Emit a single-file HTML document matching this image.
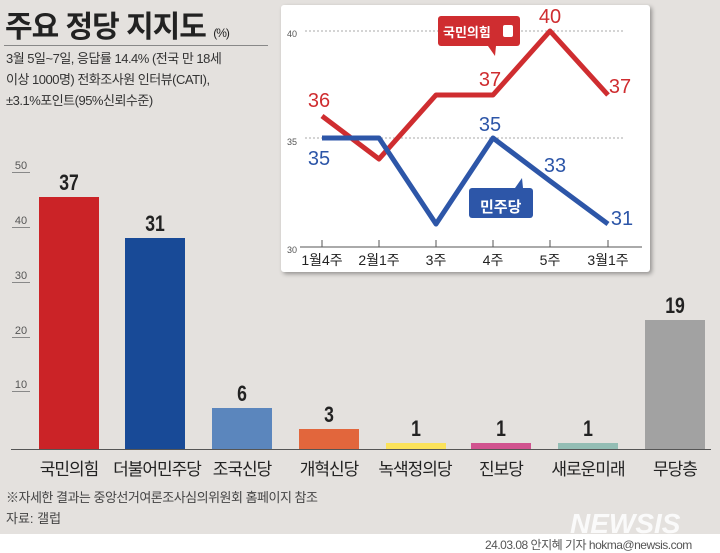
<!DOCTYPE html><html><head><meta charset="utf-8"><style>
body{margin:0;width:720px;height:553px;background:#e4e1de;position:relative;overflow:hidden;font-family:"Liberation Sans","Noto Sans CJK KR",sans-serif;}
.a{position:absolute;white-space:nowrap}
.bar{position:absolute;width:60px}
.v{position:absolute;width:60px;text-align:center;font-size:22px;font-weight:bold;color:#222;transform:scaleX(.8)}
.lb{position:absolute;width:86px;text-align:center;font-size:17px;color:#222;top:455px;letter-spacing:-1px}
.t{position:absolute;left:12px;font-size:11px;color:#555;width:18px;border-bottom:1px solid #888;text-align:center}
</style></head><body>
<div class="a" style="left:5px;top:2px;font-size:30px;font-weight:bold;color:#222;letter-spacing:-1px">주요 정당 지지도 <span style="font-size:12px;font-weight:normal">(%)</span></div>
<div class="a" style="left:4px;top:45px;width:264px;border-top:1px solid #888"></div>
<div class="a" style="left:6px;top:48px;font-size:13px;line-height:21px;color:#333;letter-spacing:-0.5px">3월 5일~7일, 응답률 14.4% (전국 만 18세<br>이상 1000명) 전화조사원 인터뷰(CATI),<br>±3.1%포인트(95%신뢰수준)</div>
<div class="t" style="top:160px">50</div><div class="t" style="top:215px">40</div><div class="t" style="top:270px">30</div><div class="t" style="top:325px">20</div><div class="t" style="top:379px">10</div>
<div class="a" style="left:11px;top:449px;width:700px;border-top:1px solid #555"></div>
<div class="bar" style="left:39px;top:197px;height:252px;background:#cb2327"></div><div class="v" style="left:39px;top:170px">37</div>
<div class="bar" style="left:125px;top:238px;height:211px;background:#184a97"></div><div class="v" style="left:125px;top:211px">31</div>
<div class="bar" style="left:212px;top:408px;height:41px;background:#5b86bd"></div><div class="v" style="left:212px;top:381px">6</div>
<div class="bar" style="left:299px;top:429px;height:20px;background:#e2663c"></div><div class="v" style="left:299px;top:402px">3</div>
<div class="bar" style="left:386px;top:443px;height:6px;background:#fbe25a"></div><div class="v" style="left:386px;top:416px">1</div>
<div class="bar" style="left:471px;top:443px;height:6px;background:#d1538f"></div><div class="v" style="left:471px;top:416px">1</div>
<div class="bar" style="left:558px;top:443px;height:6px;background:#93bdb4"></div><div class="v" style="left:558px;top:416px">1</div>
<div class="bar" style="left:645px;top:320px;height:129px;background:#a2a2a2"></div><div class="v" style="left:645px;top:293px">19</div>
<div class="lb" style="left:26px">국민의힘</div><div class="lb" style="left:112px;width:90px">더불어민주당</div><div class="lb" style="left:199px">조국신당</div><div class="lb" style="left:286px">개혁신당</div><div class="lb" style="left:370px;width:90px">녹색정의당</div><div class="lb" style="left:458px">진보당</div><div class="lb" style="left:545px">새로운미래</div><div class="lb" style="left:632px">무당층</div>
<div class="a" style="left:6px;top:487px;font-size:13px;color:#444;letter-spacing:-0.5px">※자세한 결과는 중앙선거여론조사심의위원회 홈페이지 참조</div>
<div class="a" style="left:6px;top:508px;font-size:13px;color:#444">자료: 갤럽</div>
<div class="a" style="left:570px;top:508px;font-size:28px;font-weight:bold;font-style:italic;color:#fff;opacity:.85">NEWSIS</div>
<div class="a" style="left:0;top:534px;width:720px;height:19px;background:#fff"></div>
<div class="a" style="left:485px;top:536px;font-size:12px;color:#555;letter-spacing:-0.5px">24.03.08 안지혜 기자 hokma@newsis.com</div>
<svg class="a" style="left:0;top:0" width="720" height="553">
<rect x="281" y="5" width="369" height="267" rx="3" fill="#fff" style="filter:drop-shadow(2px 2px 2px rgba(0,0,0,.35))"/>
<g stroke="#aaa" stroke-dasharray="2,2"><line x1="305" y1="31" x2="625" y2="31"/><line x1="305" y1="138" x2="625" y2="138"/></g>
<line x1="300" y1="247" x2="642" y2="247" stroke="#555"/>
<g stroke="#555"><line x1="322" y1="240" x2="322" y2="247"/><line x1="379" y1="240" x2="379" y2="247"/><line x1="436" y1="240" x2="436" y2="247"/><line x1="493" y1="240" x2="493" y2="247"/><line x1="550" y1="240" x2="550" y2="247"/><line x1="608" y1="240" x2="608" y2="247"/></g>
<g font-size="9" fill="#555" font-family="Liberation Sans"><text x="287" y="37">40</text><text x="287" y="145">35</text><text x="287" y="253">30</text></g>
<g font-size="14" fill="#222" text-anchor="middle" font-family="Liberation Sans,Noto Sans CJK KR"><text x="322" y="265">1월4주</text><text x="379" y="265">2월1주</text><text x="436" y="265">3주</text><text x="493" y="265">4주</text><text x="550" y="265">5주</text><text x="608" y="265">3월1주</text></g>
<polyline points="322,116 379,159 436,95 493,95 550,31 608,95" fill="none" stroke="#cf2d30" stroke-width="5" stroke-linejoin="round"/>
<polyline points="322,138 379,138 436,224 493,138 550,181 608,224" fill="none" stroke="#2d56a8" stroke-width="5" stroke-linejoin="round"/>
<g font-size="20" font-family="Liberation Sans" text-anchor="middle"><g fill="#cf2d30"><text x="319" y="107">36</text><text x="490" y="86">37</text><text x="550" y="23">40</text><text x="620" y="93">37</text></g>
<g fill="#2d56a8"><text x="319" y="165">35</text><text x="490" y="131">35</text><text x="555" y="172">33</text><text x="622" y="225">31</text></g></g>
<rect x="438" y="16" width="82" height="30" rx="3" fill="#cf2d30"/><polygon points="488,46 496,46 495,56" fill="#cf2d30"/>
<text x="443" y="37" font-size="13" font-weight="bold" fill="#fff" font-family="Noto Sans CJK KR">국민의힘</text><rect x="503" y="25" width="10" height="12" rx="2" fill="#fff"/>
<rect x="469" y="188" width="64" height="30" rx="3" fill="#2d56a8"/><polygon points="515,188 523,188 522,178" fill="#2d56a8"/>
<text x="480" y="212" font-size="15" font-weight="bold" fill="#fff" font-family="Noto Sans CJK KR">민주당</text>
</svg>
</body></html>
